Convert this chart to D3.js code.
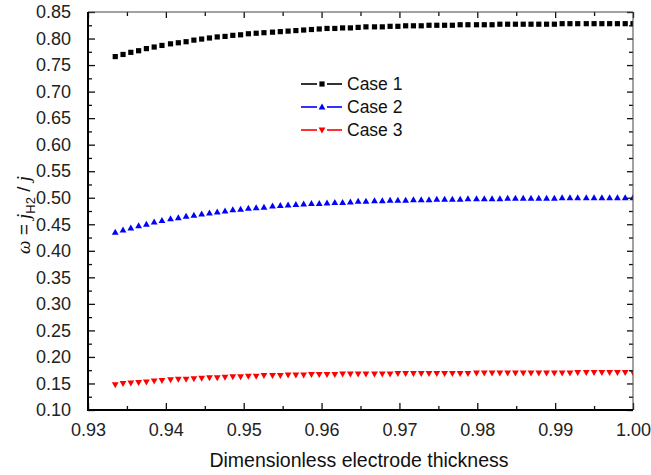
<!DOCTYPE html>
<html>
<head>
<meta charset="utf-8">
<script src="https://cdn.jsdelivr.net/npm/d3@7"></script>
<style>
  html, body { margin: 0; padding: 0; background: #fff; }
  svg { display: block; font-family: "Liberation Sans", Arial, sans-serif; }
</style>
</head>
<body>
<svg id="chart" width="651" height="475"></svg>
<script>
// Dimensionless electrode thickness (abscissa of every series)
const thickness = [
  0.9335, 0.9345, 0.9355, 0.9365, 0.9375, 0.9385, 0.9395, 0.9406, 0.9416, 0.9426,
  0.9436, 0.9446, 0.9456, 0.9466, 0.9476, 0.9486, 0.9496, 0.9506, 0.9516, 0.9526,
  0.9537, 0.9547, 0.9557, 0.9567, 0.9577, 0.9587, 0.9597, 0.9607, 0.9617, 0.9627,
  0.9637, 0.9647, 0.9657, 0.9668, 0.9678, 0.9688, 0.9698, 0.9708, 0.9718, 0.9728,
  0.9738, 0.9748, 0.9758, 0.9768, 0.9778, 0.9788, 0.9799, 0.9809, 0.9819, 0.9829,
  0.9839, 0.9849, 0.9859, 0.9869, 0.9879, 0.9889, 0.9899, 0.9909, 0.9919, 0.9929,
  0.9940, 0.9950, 0.9960, 0.9970, 0.9980, 0.9990, 1.0000
];

// omega = j_H2 / j for each case
const case1 = [
  0.766, 0.770, 0.774, 0.777, 0.781, 0.784, 0.787, 0.790, 0.792, 0.794,
  0.797, 0.799, 0.801, 0.803, 0.804, 0.806, 0.807, 0.809, 0.810, 0.811,
  0.812, 0.813, 0.814, 0.815, 0.816, 0.817, 0.818, 0.819, 0.819, 0.820,
  0.820, 0.821, 0.822, 0.822, 0.822, 0.823, 0.823, 0.824, 0.824, 0.824,
  0.825, 0.825, 0.825, 0.825, 0.826, 0.826, 0.826, 0.826, 0.826, 0.827,
  0.827, 0.827, 0.827, 0.827, 0.827, 0.827, 0.827, 0.828, 0.828, 0.828,
  0.828, 0.828, 0.828, 0.828, 0.828, 0.828, 0.828
];
const case2 = [
  0.435, 0.439, 0.443, 0.447, 0.450, 0.454, 0.457, 0.460, 0.462, 0.465,
  0.467, 0.469, 0.471, 0.473, 0.475, 0.477, 0.478, 0.480, 0.481, 0.482,
  0.484, 0.485, 0.486, 0.487, 0.488, 0.489, 0.489, 0.490, 0.491, 0.491,
  0.492, 0.493, 0.493, 0.494, 0.494, 0.495, 0.495, 0.495, 0.496, 0.496,
  0.496, 0.497, 0.497, 0.497, 0.497, 0.498, 0.498, 0.498, 0.498, 0.498,
  0.499, 0.499, 0.499, 0.499, 0.499, 0.499, 0.499, 0.500, 0.500, 0.500,
  0.500, 0.500, 0.500, 0.500, 0.500, 0.500, 0.500
];
const case3 = [
  0.148, 0.150, 0.151, 0.152, 0.153, 0.155, 0.156, 0.157, 0.158, 0.158,
  0.159, 0.160, 0.161, 0.161, 0.162, 0.163, 0.163, 0.164, 0.164, 0.165,
  0.165, 0.165, 0.166, 0.166, 0.166, 0.167, 0.167, 0.167, 0.167, 0.168,
  0.168, 0.168, 0.168, 0.168, 0.168, 0.168, 0.169, 0.169, 0.169, 0.169,
  0.169, 0.169, 0.169, 0.169, 0.169, 0.169, 0.170, 0.170, 0.170, 0.170,
  0.170, 0.170, 0.170, 0.170, 0.170, 0.170, 0.170, 0.170, 0.170, 0.171,
  0.171, 0.171, 0.171, 0.171, 0.171, 0.171, 0.171
];

const seriesNames = ["Case 1", "Case 2", "Case 3"];
const xTickLabels = ["0.93", "0.94", "0.95", "0.96", "0.97", "0.98", "0.99", "1.00"];
const yTickLabels = ["0.10", "0.15", "0.20", "0.25", "0.30", "0.35", "0.40", "0.45",
                     "0.50", "0.55", "0.60", "0.65", "0.70", "0.75", "0.80", "0.85"];

const series = [
  { name: seriesNames[0], values: case1, color: "#000000", symbol: "square" },
  { name: seriesNames[1], values: case2, color: "#0000ff", symbol: "up" },
  { name: seriesNames[2], values: case3, color: "#ff0000", symbol: "down" }
];

const svg = d3.select("#chart");
const m = { left: 88, top: 12, right: 633, bottom: 410 };

const x = d3.scaleLinear().domain([0.93, 1.00]).range([m.left, m.right]);
const y = d3.scaleLinear().domain([0.10, 0.85]).range([m.bottom, m.top]);

const xMajor = xTickLabels.map(Number);
const yMajor = yTickLabels.map(Number);
const xMinor = xMajor.slice(0, -1).map(v => +(v + 0.005).toFixed(3));
const yMinor = yMajor.slice(0, -1).map(v => +(v + 0.025).toFixed(3));

// Marker shapes
function markerPath(sym) {
  if (sym === "square") return "M-2.6,-2.6H2.6V2.6H-2.6Z";
  if (sym === "up") return "M0,-3.6L3.4,2.4H-3.4Z";
  return "M0,3.6L3.4,-2.4H-3.4Z";
}

svg.append("defs").append("clipPath").attr("id", "plotClip")
  .append("rect")
  .attr("x", m.left).attr("y", m.top)
  .attr("width", m.right - m.left).attr("height", m.bottom - m.top);

// Data markers
const plot = svg.append("g").attr("clip-path", "url(#plotClip)");
series.forEach(s => {
  plot.append("g").selectAll("path")
    .data(s.values.map((v, i) => [thickness[i], v]))
    .join("path")
    .attr("d", markerPath(s.symbol))
    .attr("transform", d => `translate(${x(d[0])},${y(d[1])})`)
    .attr("fill", s.color);
});

// Axes: ticks drawn inward on all four sides
const axisColor = "#111";
function styleAxis(g) {
  g.select(".domain").remove();
  g.selectAll("line").attr("stroke", axisColor).attr("stroke-width", 1.3);
}

const bottomMajor = d3.axisBottom(x).tickValues(xMajor).tickSize(-7).tickFormat((d, i) => xTickLabels[i]).tickPadding(13);
const gB = svg.append("g").attr("transform", `translate(0,${m.bottom})`).call(bottomMajor);
styleAxis(gB);
gB.selectAll("text").attr("font-size", 18).attr("fill", "#222");
svg.append("g").attr("transform", `translate(0,${m.bottom})`)
  .call(d3.axisBottom(x).tickValues(xMinor).tickSize(-4).tickFormat(""))
  .call(styleAxis);

const topMajor = d3.axisTop(x).tickValues(xMajor).tickSize(-6).tickFormat("");
svg.append("g").attr("transform", `translate(0,${m.top})`).call(topMajor).call(styleAxis);
svg.append("g").attr("transform", `translate(0,${m.top})`)
  .call(d3.axisTop(x).tickValues(xMinor).tickSize(-4).tickFormat(""))
  .call(styleAxis);

const leftMajor = d3.axisLeft(y).tickValues(yMajor).tickSize(-7).tickFormat((d, i) => yTickLabels[i]).tickPadding(17);
const gL = svg.append("g").attr("transform", `translate(${m.left},0)`).call(leftMajor);
styleAxis(gL);
gL.selectAll("text").attr("font-size", 18).attr("fill", "#222");
svg.append("g").attr("transform", `translate(${m.left},0)`)
  .call(d3.axisLeft(y).tickValues(yMinor).tickSize(-4).tickFormat(""))
  .call(styleAxis);

svg.append("g").attr("transform", `translate(${m.right},0)`)
  .call(d3.axisRight(y).tickValues(yMajor).tickSize(-6).tickFormat(""))
  .call(styleAxis);
svg.append("g").attr("transform", `translate(${m.right},0)`)
  .call(d3.axisRight(y).tickValues(yMinor).tickSize(-4).tickFormat(""))
  .call(styleAxis);

// Frame
svg.append("line").attr("x1", m.left).attr("x2", m.right).attr("y1", m.top).attr("y2", m.top)
  .attr("stroke", "#444").attr("stroke-width", 1);
svg.append("line").attr("x1", m.right).attr("x2", m.right).attr("y1", m.top).attr("y2", m.bottom)
  .attr("stroke", "#444").attr("stroke-width", 1);
svg.append("line").attr("x1", m.left).attr("x2", m.left).attr("y1", m.top).attr("y2", m.bottom + 1)
  .attr("stroke", "#000").attr("stroke-width", 2);
svg.append("line").attr("x1", m.left - 1).attr("x2", m.right).attr("y1", m.bottom).attr("y2", m.bottom)
  .attr("stroke", "#000").attr("stroke-width", 2);

// Axis titles
svg.append("text")
  .attr("x", 359).attr("y", 467)
  .attr("text-anchor", "middle").attr("font-size", 19.5).attr("fill", "#111")
  .text("Dimensionless electrode thickness");

const yTitle = svg.append("text")
  .attr("transform", `translate(30,215) rotate(-90)`)
  .attr("text-anchor", "middle").attr("font-size", 19).attr("fill", "#111");
yTitle.append("tspan").attr("font-family", "'Liberation Serif', serif").attr("font-style", "italic").text("ω");
yTitle.append("tspan").text(" = ");
yTitle.append("tspan").attr("font-family", "'Liberation Serif', serif").attr("font-style", "italic").text("j");
yTitle.append("tspan").attr("font-size", 13).attr("dy", 5).text("H2");
yTitle.append("tspan").attr("dy", -5).text(" / ");
yTitle.append("tspan").attr("font-family", "'Liberation Serif', serif").attr("font-style", "italic").text("j");

// Legend
const legend = svg.append("g");
series.forEach((s, i) => {
  const cy = 84 + i * 23;
  legend.append("line").attr("x1", 301).attr("x2", 317).attr("y1", cy).attr("y2", cy)
    .attr("stroke", s.color).attr("stroke-width", 1.6);
  legend.append("line").attr("x1", 327).attr("x2", 342).attr("y1", cy).attr("y2", cy)
    .attr("stroke", s.color).attr("stroke-width", 1.6);
  legend.append("path").attr("d", markerPath(s.symbol))
    .attr("transform", `translate(322,${cy})`).attr("fill", s.color);
  legend.append("text").attr("x", 347).attr("y", cy + 6)
    .attr("font-size", 17.5).attr("fill", "#111").text(s.name);
});
</script>
</body>
</html>
